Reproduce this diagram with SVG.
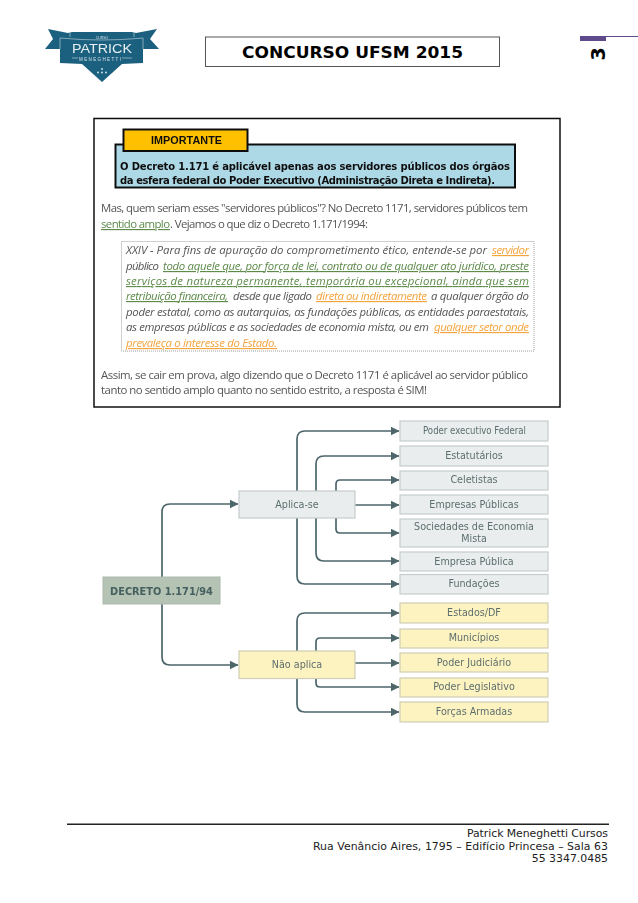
<svg xmlns="http://www.w3.org/2000/svg" width="638" height="903" viewBox="0 0 638 903">
<style>
.body{font-family:"Open Sans","Noto Sans",sans-serif;font-size:11.4px;fill:#555}
.it{font-style:italic}
.gr{fill:#5c8a4a;text-decoration:underline}
.or{fill:#f5a33c;text-decoration:underline}
.bb{font-family:"DejaVu Sans",sans-serif;font-weight:bold;font-size:10px;fill:#111}
.foot{font-family:"DejaVu Sans",sans-serif;font-size:10.9px;fill:#222;text-anchor:end}
.nt{font-family:"DejaVu Sans",sans-serif;font-size:9.6px;fill:#5d6e6e;text-anchor:middle}
.gb{fill:#e9eded;stroke:#c6cccc;stroke-width:1.2}
.yb{fill:#fdf3c0;stroke:#cfcdb4;stroke-width:1.2}
.cn{fill:none;stroke:#4d666b;stroke-width:1.7}
</style>
<defs>
<marker id="ah" markerUnits="userSpaceOnUse" markerWidth="9" markerHeight="9" refX="8.5" refY="4.500" orient="auto"><path d="M0 0L9 4.500L0 9Z" fill="#4d666b"/></marker>
<filter id="soft" x="-2%" y="-2%" width="104%" height="104%"><feGaussianBlur stdDeviation="0.35"/></filter>
</defs>
<rect width="638" height="903" fill="#fff"/>
<g id="logo" filter="url(#soft)">
<path d="M48 29L68 33L72 32L132 32L136 33L157 29L150 39L159 49L143 49L143 63L122 64L102 82L82 64L60 63L60 49L45 49L53 39Z" fill="#1f617f"/>
<path d="M60 38Q102 42 143 38M70 32V37M134 32V37M60 49V38M143 49V38" fill="none" stroke="#a9c6d2" stroke-width="0.7"/>
<path d="M72 58H78M122 58H132" fill="none" stroke="#a9c6d2" stroke-width="0.7"/>
<text x="102" y="38.500" text-anchor="middle" font-family="'Liberation Sans',sans-serif" font-size="3.500" fill="#cfe0e8">CURSO</text>
<text x="102" y="53" text-anchor="middle" font-family="'Liberation Sans',sans-serif" font-size="13" fill="#e6eff3" textLength="60" lengthAdjust="spacingAndGlyphs">PATRICK</text>
<text x="100" y="61" text-anchor="middle" font-family="'Liberation Sans',sans-serif" font-size="4.500" fill="#cfe0e8" textLength="42" lengthAdjust="spacing">MENEGHETTI</text>
<g fill="#dbe8ee"><circle cx="102" cy="69" r="0.9"/><circle cx="98" cy="72.500" r="0.9"/><circle cx="102" cy="72.500" r="0.9"/><circle cx="106" cy="72.500" r="0.9"/></g>
</g>
<g id="title">
<rect x="205.500" y="37" width="294" height="29.500" fill="#fff" stroke="#555" stroke-width="1"/>
<text x="352.500" y="58" text-anchor="middle" font-family="'DejaVu Sans',sans-serif" font-weight="bold" font-size="16" fill="#000" textLength="221" lengthAdjust="spacingAndGlyphs">CONCURSO UFSM 2015</text>
</g>
<g id="pagenum">
<rect x="580" y="36" width="26" height="5" fill="#5f4b8b"/>
<rect x="606" y="36" width="32" height="1" fill="#5f4b8b"/>
<text transform="translate(605 60.500) rotate(-90)" font-family="'DejaVu Sans',sans-serif" font-weight="bold" font-size="19" fill="#000">3</text>
</g>
<g id="importante-panel" filter="url(#soft)">
<rect x="94" y="118.500" width="466" height="288.500" fill="#fff" stroke="#111" stroke-width="1.500"/>
<rect x="115.500" y="144.500" width="399.500" height="43" fill="#add8e6" stroke="#111" stroke-width="2"/>
<rect x="123.500" y="129.500" width="124" height="21.500" fill="#ffc000" stroke="#111" stroke-width="2"/>
<text x="151" y="144" font-family="'Liberation Sans',sans-serif" font-weight="bold" font-size="10.800" fill="#111" textLength="71">IMPORTANTE</text>
<text class="bb" x="120" y="170" textLength="390">O Decreto 1.171 é aplicável apenas aos servidores públicos dos órgãos</text>
<text class="bb" x="120" y="184" textLength="375">da esfera federal do Poder Executivo (Administração Direta e Indireta).</text>
<text class="body" x="101" y="212" textLength="427">Mas, quem seriam esses "servidores públicos"? No Decreto 1171, servidores públicos tem</text>
<text class="body gr" x="101" y="228" textLength="69">sentido amplo</text>
<text class="body" x="170" y="228" textLength="198">. Vejamos o que diz o Decreto 1.171/1994:</text>
<rect x="121.500" y="241.500" width="412.500" height="109.500" fill="#fff" stroke="#888" stroke-width="0.800" stroke-dasharray="1 1"/>
<g class="it">
<text class="body" x="126" y="254" textLength="361">XXIV - Para fins de apuração do comprometimento ético, entende-se por</text>
<text class="body or" x="492" y="254" textLength="37">servidor</text>
<text class="body" x="126" y="270" textLength="33">público</text>
<text class="body gr" x="163" y="270" textLength="366">todo aquele que, por força de lei, contrato ou de qualquer ato jurídico, preste</text>
<text class="body gr" x="126" y="285" textLength="403">serviços de natureza permanente, temporária ou excepcional, ainda que sem</text>
<text class="body gr" x="126" y="300" textLength="102">retribuição financeira,</text>
<text class="body" x="233" y="300" textLength="79">desde que ligado</text>
<text class="body or" x="316" y="300" textLength="111">direta ou indiretamente</text>
<text class="body" x="431" y="300" textLength="98">a qualquer órgão do</text>
<text class="body" x="126" y="316" textLength="403">poder estatal, como as autarquias, as fundações públicas, as entidades paraestatais,</text>
<text class="body" x="126" y="331" textLength="303">as empresas públicas e as sociedades de economia mista, ou em</text>
<text class="body or" x="434" y="331" textLength="95">qualquer setor onde</text>
<text class="body or" x="126" y="347" textLength="151">prevaleça o interesse do Estado.</text>
</g>
<text class="body" x="101" y="379" textLength="427">Assim, se cair em prova, algo dizendo que o Decreto 1171 é aplicável ao servidor público</text>
<text class="body" x="101" y="394" textLength="326">tanto no sentido amplo quanto no sentido estrito, a resposta é SIM!</text>
</g>
<g id="diagram" filter="url(#soft)">
<g id="connectors">
<path class="cn" marker-end="url(#ah)" d="M162 577V512Q162 504 170 504H238"/>
<path class="cn" marker-end="url(#ah)" d="M162 604V657Q162 665 170 665H238"/>
<path class="cn" marker-end="url(#ah)" d="M297 491V439Q297 431 305 431H399"/>
<path class="cn" marker-end="url(#ah)" d="M316 491V464Q316 456 324 456H399"/>
<path class="cn" marker-end="url(#ah)" d="M336 491V484Q336 480 340 480H399"/>
<path class="cn" marker-end="url(#ah)" d="M355 505H399"/>
<path class="cn" marker-end="url(#ah)" d="M336 518V529Q336 533 340 533H399"/>
<path class="cn" marker-end="url(#ah)" d="M316 518V553Q316 561 324 561H399"/>
<path class="cn" marker-end="url(#ah)" d="M297 518V576Q297 584 305 584H399"/>
<path class="cn" marker-end="url(#ah)" d="M297 651V621Q297 613 305 613H399"/>
<path class="cn" marker-end="url(#ah)" d="M316 651V642Q316 638 320 638H399"/>
<path class="cn" marker-end="url(#ah)" d="M355 663H399"/>
<path class="cn" marker-end="url(#ah)" d="M316 679V683Q316 687 320 687H399"/>
<path class="cn" marker-end="url(#ah)" d="M297 679V704Q297 712 305 712H399"/>
</g>
<g id="n-decreto"><rect x="103" y="577" width="117" height="27" fill="#b4c3b3" stroke="#abbaab"/><text x="161.500" y="594.500" text-anchor="middle" font-family="'DejaVu Sans',sans-serif" font-weight="bold" font-size="9.800" fill="#45605f">DECRETO 1.171/94</text></g>
<g id="n-aplica"><rect class="gb" x="239" y="491" width="116" height="27"/><text class="nt" x="297" y="508">Aplica-se</text></g>
<g id="n-naoaplica"><rect class="yb" x="239" y="651" width="116" height="27.500"/><text class="nt" x="297" y="668">Não aplica</text></g>
<g id="n-poder-exec"><rect class="gb" x="400" y="421" width="148" height="20"/><text class="nt" x="474.500" y="434" textLength="103" lengthAdjust="spacingAndGlyphs">Poder executivo Federal</text></g>
<g id="n-estatutarios"><rect class="gb" x="400" y="446" width="148" height="20"/><text class="nt" x="474" y="459">Estatutários</text></g>
<g id="n-celetistas"><rect class="gb" x="400" y="471" width="148" height="19"/><text class="nt" x="474" y="483">Celetistas</text></g>
<g id="n-empresas"><rect class="gb" x="400" y="495" width="148" height="19"/><text class="nt" x="474" y="508">Empresas Públicas</text></g>
<g id="n-sociedades"><rect class="gb" x="400" y="519" width="148" height="28"/><text class="nt" x="474" y="530">Sociedades de Economia</text><text class="nt" x="474" y="542">Mista</text></g>
<g id="n-empresa"><rect class="gb" x="400" y="552" width="148" height="19"/><text class="nt" x="474" y="565">Empresa Pública</text></g>
<g id="n-fundacoes"><rect class="gb" x="400" y="574.500" width="148" height="19.500"/><text class="nt" x="474" y="587">Fundações</text></g>
<g id="n-estados"><rect class="yb" x="400" y="603" width="148" height="20"/><text class="nt" x="474" y="616">Estados/DF</text></g>
<g id="n-municipios"><rect class="yb" x="400" y="629" width="148" height="19"/><text class="nt" x="474" y="641">Municípios</text></g>
<g id="n-judiciario"><rect class="yb" x="400" y="653" width="148" height="19"/><text class="nt" x="474" y="666">Poder Judiciário</text></g>
<g id="n-legislativo"><rect class="yb" x="400" y="678" width="148" height="19"/><text class="nt" x="474" y="690">Poder Legislativo</text></g>
<g id="n-forcas"><rect class="yb" x="400" y="702" width="148" height="20"/><text class="nt" x="474" y="715">Forças Armadas</text></g>
</g>
<g id="footer">
<rect x="67" y="823.500" width="542" height="1.500" fill="#222"/>
<text class="foot" x="608" y="837" textLength="141">Patrick Meneghetti Cursos</text>
<text class="foot" x="608" y="850" textLength="295">Rua Venâncio Aires, 1795 – Edifício Princesa – Sala 63</text>
<text class="foot" x="608" y="862">55 3347.0485</text>
</g>
</svg>
